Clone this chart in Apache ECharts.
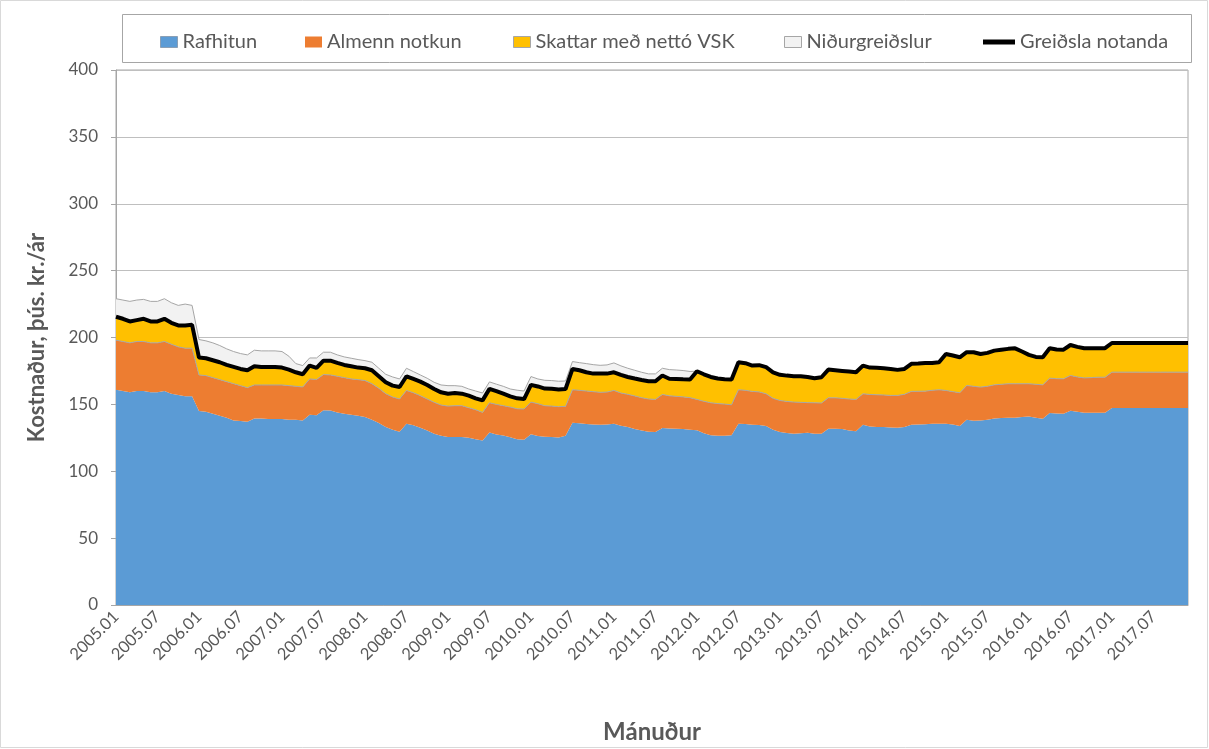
<!DOCTYPE html>
<html>
<head>
<meta charset="utf-8">
<title>Kostnaður</title>
<script src="https://cdn.jsdelivr.net/npm/echarts@6/dist/echarts.min.js"></script>
<style>
    html, body { margin: 0; padding: 0; background: #fff; }
    #chart { width: 1209px; height: 749px; }
</style>
</head>
<body>
<div id="chart"></div>
<script>
// mánuðir 2005.01 - 2017.12
var months = [];
for (var y = 2005; y <= 2017; y++) {
    for (var m = 1; m <= 12; m++) {
        months.push(y + '.' + (m < 10 ? '0' + m : m));
    }
}

var rafhitun = [
    161, 160, 159, 160, 160, 159, 159, 160, 158, 157, 156, 156,
    145, 144.5, 143, 141.5, 140, 138, 137.5, 137, 139.5, 139.5, 139, 139,
    139, 138.5, 138.5, 138, 142.3, 141.8, 145.6, 145.5, 144, 143, 142.3, 141.5,
    140.5, 138.5, 136, 133, 131, 129.5, 135.6, 134.3, 132.5, 130.5, 128, 126.5,
    125.6, 125.6, 125.6, 125, 124, 123, 128.9, 127.4, 126.8, 125.5, 124, 123.5,
    127.6, 126.4, 125.8, 125.6, 125.2, 126.5, 136.3, 135.8, 135.3, 135, 134.8, 135,
    135.6, 134, 133, 131.5, 130.5, 129.5, 129.4, 132.3, 132, 131.8, 131.5, 131,
    130.6, 128.5, 127, 126.5, 126.5, 126.9, 135.6, 135.3, 134.8, 134.5, 133.8, 131,
    129.4, 128.6, 128.1, 128.5, 128.8, 128.1, 128.1, 131.8, 131.8, 131.5, 130.5, 130,
    134.8, 133.5, 133.1, 133.1, 132.8, 132.5, 133, 134.8, 135, 135.1, 135.5, 135.6,
    135.6, 135, 133.8, 138.5, 137.8, 138, 138.5, 139.5, 139.8, 140, 140, 140.5,
    141, 140, 139.3, 143.5, 143.2, 143, 145.3, 144.5, 143.8, 143.8, 143.8, 143.8,
    147.3, 147.3, 147.3, 147.3, 147.3, 147.3, 147.3, 147.3, 147.3, 147.3, 147.3, 147.3
];

var almennNotkun = [
    37, 37, 37, 37, 37, 37, 37, 37, 37, 36, 36, 36,
    27, 27, 27, 27, 27, 27.5, 26.5, 25.5, 25, 25, 25.5, 25.5,
    25.5, 25.5, 25, 25, 26.7, 26.8, 26.7, 26.5, 27, 27, 26.7, 27,
    27.3, 27, 26, 25, 24.5, 24.5, 24.8, 24.4, 24, 23.5, 23.5, 23,
    23.1, 23.4, 23.4, 22.5, 22, 21, 22.3, 22.6, 22.2, 22.5, 22.7, 23,
    24.1, 24.1, 23.2, 23.1, 23.1, 22, 24.6, 24.7, 24.7, 24.5, 24.2, 24.2,
    24.8, 24.5, 24.5, 24.8, 24.5, 24.5, 24.3, 25.1, 24.4, 24.2, 24.1, 24,
    23.1, 23.8, 24.2, 24.1, 23.7, 22.8, 25.3, 25.2, 24.9, 24.8, 24.1, 23.5,
    23.5, 23.6, 23.6, 23, 22.5, 23.1, 22.9, 23.1, 23.1, 23, 23.5, 23.7,
    23.1, 23.9, 24.1, 23.9, 23.9, 24.2, 24.5, 24.9, 24.8, 24.8, 25, 25.3,
    24.8, 24.5, 24.9, 25.6, 25.7, 24.9, 25, 25.1, 25.2, 25.4, 25.4, 24.9,
    24.4, 25, 25.3, 26.1, 26, 26.1, 26.3, 26, 26, 26.2, 26.5, 26.5,
    26.8, 26.8, 26.8, 26.8, 26.8, 26.8, 26.8, 26.8, 26.8, 26.8, 26.8, 26.8
];

var skattar = [
    17.5, 17, 16, 16, 17, 16, 16, 17, 16, 16, 17, 17.5,
    13, 13, 13, 13, 12.5, 12.5, 12.5, 13, 14, 13.5, 13.5, 13.5,
    13, 12, 10.5, 9.5, 10, 8.7, 10.4, 10.7, 10, 9.5, 9.5, 9,
    9.2, 10, 9, 8.5, 8.5, 9, 10.6, 10.3, 10.5, 10.5, 10, 9.5,
    9.3, 9.5, 9, 9, 8.5, 9, 10.4, 9.9, 9, 8, 7.8, 7.5,
    12.9, 12.9, 12.8, 12.9, 12.9, 13, 15.6, 15, 14, 13.5, 14, 13.8,
    13.6, 13.5, 13, 13, 13.2, 13.3, 13.6, 14.2, 12.8, 13, 13.1, 13.6,
    21.1, 20.2, 19.3, 18.7, 18.6, 18.9, 20.6, 20.3, 19.3, 20, 19.9, 19.5,
    19.2, 19.3, 19.4, 19.6, 19.2, 18.4, 19.3, 21.1, 20.6, 20.5, 20.5, 20.3,
    21.1, 20.1, 20.1, 20, 19.8, 19.1, 19, 20.6, 20.7, 21.1, 20.5, 20.6,
    27.3, 27, 26.5, 24.9, 25.5, 24.8, 25, 25.6, 25.9, 26.1, 26.5, 24.1,
    21.6, 20.5, 20.6, 22.3, 21.8, 21.8, 22.8, 22.5, 22.2, 22, 21.7, 21.7,
    21.8, 21.8, 21.8, 21.8, 21.8, 21.8, 21.8, 21.8, 21.8, 21.8, 21.8, 21.8
];

var nidurgreidslur = [
    13.5, 14, 15, 15, 14.5, 15, 15, 15, 15, 15, 16, 14.5,
    13.5, 13, 13, 12.5, 12, 11.5, 11.5, 11.5, 12, 12, 12, 12,
    12, 10, 6.5, 6.5, 5.7, 7.4, 6.3, 6.3, 6, 6, 6, 6,
    5.7, 6, 6, 6, 6.5, 6, 6, 5.5, 5, 5, 5, 5.5,
    6, 5.5, 5.5, 5, 5.5, 5.5, 5.2, 5.2, 5.5, 5.5, 6.1, 6,
    6.2, 5.6, 6.2, 6.2, 6.1, 6, 5.5, 5.7, 6.5, 6.7, 6.2, 6.5,
    7, 6.8, 6.5, 6.2, 5.8, 5.5, 5.5, 5.4, 6.8, 6.7, 6.6, 6,
    0, 0, 0, 0, 0, 0, 0, 0, 0, 0, 0, 0,
    0, 0, 0, 0, 0, 0, 0, 0, 0, 0, 0, 0,
    0, 0, 0, 0, 0, 0, 0, 0, 0, 0, 0, 0,
    0, 0, 0, 0, 0, 0, 0, 0, 0, 0, 0, 0,
    0, 0, 0, 0, 0, 0, 0, 0, 0, 0, 0, 0,
    0, 0, 0, 0, 0, 0, 0, 0, 0, 0, 0, 0
];

var greidslaNotanda = [
    215.5, 214, 212, 213, 214, 212, 212, 214, 211, 209, 209, 209.5,
    185, 184.5, 183, 181.5, 179.5, 178, 176.5, 175.5, 178.5, 178, 178, 178,
    177.5, 176, 174, 172.5, 179, 177.3, 182.7, 182.7, 181, 179.5, 178.5, 177.5,
    177, 175.5, 171, 166.5, 164, 163, 171, 169, 167, 164.5, 161.5, 159,
    158, 158.5, 158, 156.5, 154.5, 153, 161.6, 159.9, 158, 156, 154.5, 154,
    164.6, 163.4, 161.8, 161.6, 161.2, 161.5, 176.5, 175.5, 174, 173, 173, 173,
    174, 172, 170.5, 169.3, 168.2, 167.3, 167.3, 171.6, 169.2, 169, 168.7, 168.6,
    174.8, 172.5, 170.5, 169.3, 168.8, 168.6, 181.5, 180.8, 179, 179.3, 177.8, 174,
    172.1, 171.5, 171.1, 171.1, 170.5, 169.6, 170.3, 176, 175.5, 175, 174.5, 174,
    179, 177.5, 177.3, 177, 176.5, 175.8, 176.5, 180.3, 180.5, 181, 181, 181.5,
    187.7, 186.5, 185.2, 189, 189, 187.7, 188.5, 190.2, 190.9, 191.5, 191.9, 189.5,
    187, 185.5, 185.2, 191.9, 191, 190.9, 194.4, 193, 192, 192, 192, 192,
    195.9, 195.9, 195.9, 195.9, 195.9, 195.9, 195.9, 195.9, 195.9, 195.9, 195.9, 195.9
];

var yTicks = { min: 0, max: 400, step: 50 };

(function () {
    var textColor = '#595959';
    var font = 'Lato, "Open Sans", sans-serif';

    // stakkað svæði
    var area = function (name, data, color, edge) {
        return {
            name: name,
            type: 'line',
            stack: 'kostn',
            data: data,
            symbol: 'none',
            itemStyle: { color: color },
            lineStyle: edge ? { color: edge, width: 1 } : { width: 0, color: color },
            areaStyle: { color: color, opacity: 1 }
        };
    };

    // ein skýring á hvern lið, staðsett eftir myndinni
    var legendItem = function (left, name, border, wide) {
        var item = { name: name, icon: 'rect' };
        if (border) item.itemStyle = { borderColor: border, borderWidth: 1 };
        return {
            left: left, top: 27,
            itemWidth: wide ? 32 : 17,
            itemHeight: wide ? 5 : 11,
            textStyle: { fontFamily: font, fontSize: 20, color: textColor },
            data: [item]
        };
    };

    var option = {
        animation: false,
        backgroundColor: '#fff',
        textStyle: { fontFamily: font },
        grid: {
            left: 116, right: 21, top: 70, bottom: 142,
            show: true, borderColor: '#a6a6a6', borderWidth: 1
        },
        legend: [
            legendItem(155, 'Rafhitun', '#8a9fb5'),
            legendItem(300, 'Almenn notkun', null),
            legendItem(508, 'Skattar með nettó VSK', '#a6a6a6'),
            legendItem(779, 'Niðurgreiðslur', '#a6a6a6'),
            legendItem(978, 'Greiðsla notanda', null, true)
        ],
        xAxis: {
            type: 'category',
            data: months,
            boundaryGap: false,
            name: 'Mánuður',
            nameLocation: 'middle',
            nameGap: 115,
            nameTextStyle: { fontFamily: font, fontSize: 24, fontWeight: 'bold', color: textColor },
            axisLine: { lineStyle: { color: '#a6a6a6' } },
            axisTick: { show: false },
            axisLabel: { interval: 5, rotate: 45, fontSize: 16.5, color: textColor, margin: 9 },
            splitLine: { show: false }
        },
        yAxis: {
            type: 'value',
            min: yTicks.min, max: yTicks.max, interval: yTicks.step,
            name: 'Kostnaður, þús. kr./ár',
            nameLocation: 'middle',
            nameGap: 68,
            nameTextStyle: { fontFamily: font, fontSize: 22, fontWeight: 'bold', color: textColor },
            axisLine: { show: true, lineStyle: { color: '#a6a6a6' } },
            axisTick: { show: true, length: 5, lineStyle: { color: '#a6a6a6' } },
            axisLabel: { fontSize: 17, color: textColor, margin: 18 },
            splitLine: { lineStyle: { color: '#bfbfbf' } }
        },
        series: [
            area('Rafhitun', rafhitun, '#5b9bd5', null),
            area('Almenn notkun', almennNotkun, '#ed7d31', '#a6a6a6'),
            area('Skattar með nettó VSK', skattar, '#ffc000', '#a6a6a6'),
            area('Niðurgreiðslur', nidurgreidslur, '#f2f2f2', '#a6a6a6'),
            {
                name: 'Greiðsla notanda',
                type: 'line',
                data: greidslaNotanda,
                symbol: 'none',
                z: 5,
                itemStyle: { color: '#000' },
                lineStyle: { color: '#000', width: 4 }
            }
        ],
        graphic: [
            {
                type: 'rect', silent: true,
                shape: { x: 0.5, y: 0.5, width: 1207, height: 747 },
                style: { fill: 'none', stroke: '#d9d9d9', lineWidth: 1 }
            },
            {
                type: 'rect', silent: true,
                shape: { x: 122.5, y: 14.5, width: 1069, height: 48 },
                style: { fill: 'none', stroke: '#a6a6a6', lineWidth: 1 }
            }
        ]
    };

    var myChart = echarts.init(document.getElementById('chart'));
    myChart.setOption(option);
})();
</script>
</body>
</html>
